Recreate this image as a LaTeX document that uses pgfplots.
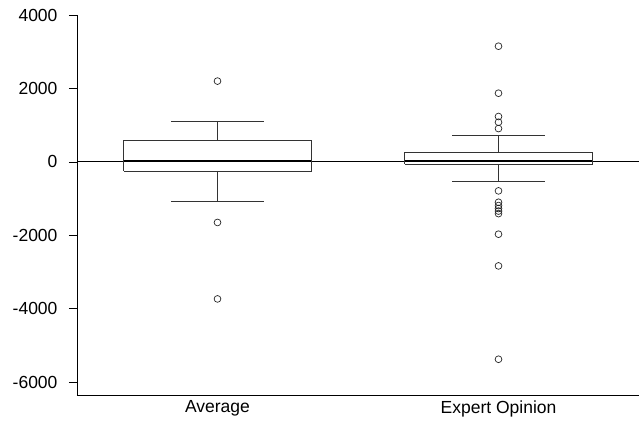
\documentclass[border=0pt]{standalone}
\usepackage{fontspec}
\setmainfont{Liberation Sans}
\usepackage{pgfplots}
\pgfplotsset{compat=1.18}
\begin{document}
\begin{tikzpicture}
\begin{axis}[name=ax, scale only axis, width=562pt, height=380pt,
 xmin=0.5, xmax=2.5, ymin=-6350, ymax=4000,
 axis x line*=bottom, axis y line*=left, axis line style={-, line width=0.9pt},
 xtick={1,2}, xticklabels={Average, Expert Opinion},
 ytick={-6000,-4000,...,4000},
 tick align=outside, major tick length=8pt,
 x tick style={draw=none}, y tick style={line width=0.7pt, black},
 tick label style={font=\fontsize{17.5}{21}\selectfont},
 /pgf/number format/assume math mode=true,
 /pgf/number format/set thousands separator={},
 yticklabel style={xshift=-8pt},
 xticklabel style={yshift=6pt},
 clip=false,
 boxline/.style={black!80, line width=0.6pt, mark=none},
 medline/.style={black, line width=1.1pt, mark=none},
 outl/.style={black!85, only marks, mark=o, mark size=3.4pt, mark options={line width=0.7pt}},
 ]
\addplot[black, line width=0.9pt, mark=none] coordinates {(0.5,0) (2.5,0)};
% Average
\addplot[boxline] coordinates {(0.6665,-245) (1.3335,-245) (1.3335,600) (0.6665,600) (0.6665,-245)};
\addplot[medline] coordinates {(0.6665,30) (1.3335,30)};
\addplot[boxline] coordinates {(1,600) (1,1117)};
\addplot[boxline] coordinates {(0.835,1117) (1.165,1117)};
\addplot[boxline] coordinates {(1,-245) (1,-1080)};
\addplot[boxline] coordinates {(0.835,-1080) (1.165,-1080)};
\addplot[outl] coordinates {(1,2200) (1,-1650) (1,-3733)};
% Expert Opinion
\addplot[boxline] coordinates {(1.6665,-63) (2.3335,-63) (2.3335,272) (1.6665,272) (1.6665,-63)};
\addplot[medline] coordinates {(1.6665,45) (2.3335,45)};
\addplot[boxline] coordinates {(2,272) (2,727)};
\addplot[boxline] coordinates {(1.835,727) (2.165,727)};
\addplot[boxline] coordinates {(2,-63) (2,-518)};
\addplot[boxline] coordinates {(1.835,-518) (2.165,-518)};
\addplot[outl] coordinates {(2,3150) (2,1870) (2,1235) (2,1080) (2,907) (2,-790) (2,-1100) (2,-1190) (2,-1270) (2,-1340) (2,-1410) (2,-1970) (2,-2834) (2,-5376)};
\end{axis}
\pgfresetboundingbox
\path ([xshift=-77pt,yshift=-28pt]ax.south west) rectangle ([yshift=15pt]ax.north east);
\end{tikzpicture}
\end{document}
